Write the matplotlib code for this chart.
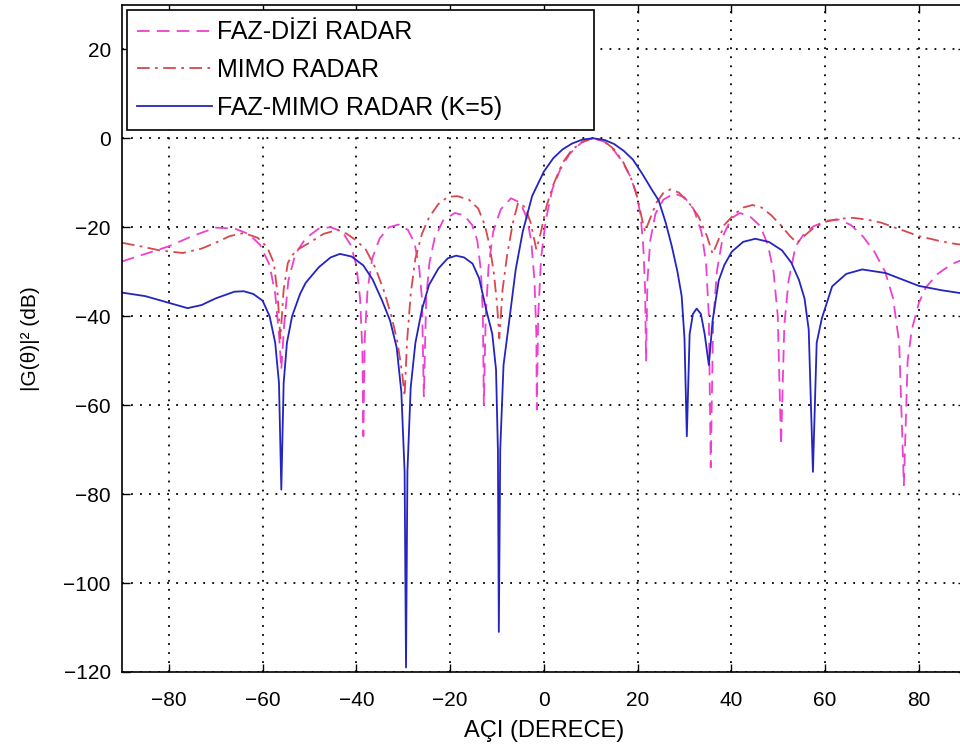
import numpy as np
import matplotlib
matplotlib.use('Agg')
import matplotlib.pyplot as plt

plt.rcParams['font.family'] = ['Liberation Sans', 'DejaVu Sans']

# FAZ-DIZI RADAR (pink dashed)
aci_dizi = [-90, -85, -80, -75, -70, -66, -63, -60.5, -58.5, -57.3, -56.5, -56.0, -55.4, -54.5, -53.0,
            -50.8, -48, -45.5, -43, -41.2, -40, -39.2, -38.7, -38.5, -38.2, -37.6, -36.6, -35, -33,
            -31, -29, -27.6, -26.6, -26, -25.6, -25.1, -24.4, -23.3, -21.5, -19, -17, -15.3, -14.2,
            -13.4, -13, -12.8, -12.4, -11.8, -10.8, -9.2, -7, -5, -3.6, -2.7, -2.0, -1.6, -1.5, -1.2,
            -0.6, 0.4, 1.8, 3.5, 5.5, 8, 10.5, 13, 15, 16.6, 18.3, 19.6, 20.6, 21.2, 21.6, 21.8, 22.1,
            22.7, 23.8, 25.5, 27.8, 30, 32, 33.6, 34.6, 35.2, 35.6, 36.1, 36.9, 38.2, 40, 41.8, 44,
            46.2, 47.8, 49, 49.9, 50.6, 51.3, 52.2, 53.7, 55.5, 57.5, 60.5, 63, 65.5, 68, 70.5, 72.8,
            74.5, 75.8, 76.8, 77.6, 78.5, 80, 81.5, 84, 87, 90]
g_dizi = [-27.7, -26.0, -24.3, -22.0, -20.1, -20.3, -21.5, -24.0, -28.5, -35, -44, -52, -42, -32, -26,
          -22.5, -20.3, -20.0, -21.0, -24.0, -28.5, -36, -48, -67, -45, -34, -27, -22.5, -20.0,
          -19.4, -20.6, -23.5, -29, -36, -58, -36, -28, -22.5, -18.5, -16.8, -17.3, -19.5, -23,
          -30, -40, -60, -40, -29, -21, -16, -13.5, -14.5, -18, -23, -32, -44, -61, -40,
          -27, -18.5, -11.5, -7, -3.5, -1, 0, -0.8, -2.8, -5, -8.3, -12, -17, -24, -34, -50, -32,
          -23, -17, -13.8, -12.4, -13.3, -16, -21, -28, -40, -74, -42, -30, -22, -18, -16.8, -17.6,
          -19.8, -24, -30, -40, -69, -42, -32, -24.3, -21.5, -19.8, -18.5, -18.3, -19.5, -22, -25.5, -30,
          -36, -46, -78, -50, -43, -37, -33.5, -30.5, -28.3, -27]

# MIMO RADAR (red dash-dot)
aci_mimo = [-90, -86, -82, -77, -73, -70, -67, -64, -61, -59, -57.6, -56.8, -56.2, -55.5, -54.6, -53,
            -50, -47, -44, -42, -40, -38, -36, -34.2, -32.5, -31.2, -30.2, -29.7, -29.2, -28.4, -27.4,
            -26, -24.5, -22.5, -20.5, -18.5, -16, -14, -12.6, -11.6, -10.7, -10, -9.5, -8.8, -7.8,
            -6.6, -5.5, -4, -2.8, -1.6, -0.6, 0.5, 2, 4, 6, 8.3, 10.5, 12.8, 15, 17, 18.8, 20, 21,
            21.6, 22.5, 24, 25.5, 27, 28.8, 31, 33, 34.8, 36, 37, 38.5, 40.5, 42.5, 44.5, 46.5, 48.5,
            50.5, 52.5, 54, 55.5, 57.5, 60, 63, 66, 69, 72, 76, 80, 84, 88, 90]
g_mimo = [-23.5, -24.3, -25.2, -25.8, -24.8, -23.5, -22, -21.3, -22.4, -24.5, -28, -35, -45, -34, -28, -25.3,
          -23.5, -21.5, -20.6, -21.5, -23, -25, -29, -34, -40, -46, -53, -58, -46, -35, -27,
          -21.5, -17.8, -14.8, -13.2, -13, -13.8, -15.8, -19.5, -24, -30, -37, -45, -34, -26,
          -19, -14.5, -15.5, -19, -25, -21, -15.5, -10.5, -5.5, -2.6, -0.7, 0, -0.6, -2.5, -5.5, -9.5, -13.5, -18.5,
          -21, -18.5, -14.5, -12.3, -11.5, -12.2, -14.6, -17.6, -22, -26, -23.5, -19.5, -17.2, -15.6, -15, -15.6, -17.3,
          -19.5, -22, -23.5, -22, -20.2, -18.8, -18.1, -17.9, -18.3, -19, -20.5, -22, -23, -23.8, -24]

# FAZ-MIMO RADAR K=5 (blue solid)
aci_fm = [-90, -85, -80, -76, -73, -70, -66, -64, -62, -60, -58.5, -57.3, -56.5, -56, -55.5, -54.8,
          -53.7, -52, -50.8, -48, -45.5, -43.5, -41, -38.5, -36.5, -34.5, -32.8, -31.4, -30.4, -29.7,
          -29.4, -29.1, -28.4, -27.4, -26, -24.5, -22.5, -20.5, -18.7, -17, -15.2, -13.8, -12.3, -11,
          -10.2, -9.8, -9.6, -9.3, -8.6, -7.5, -6, -4.5, -2.5, 0, 2, 4, 6, 8.2, 10.5, 13, 15, 17,
          19, 21, 23, 24.5, 26, 27.3, 28.5, 29.4, 30, 30.5, 31.1, 31.8, 32.6, 33.5, 34.3, 35.2, 36,
          37.3, 38.5, 40.1, 42.5, 45.1, 48, 50.8, 52.8, 54.4, 55.6, 56.5, 57.4, 58.2, 59.3, 61.5, 64.5,
          67.9, 72.9, 80, 85, 90]
g_fm = [-34.7, -35.5, -37, -38.2, -37.5, -36, -34.5, -34.4, -35, -36.5, -40, -46, -55, -79, -55, -46,
        -40, -35, -32.5, -29, -26.8, -26, -26.6, -28.6, -31.8, -36.5, -41, -47, -57, -75,
        -119, -75, -56, -46, -38.5, -33, -29.3, -27, -26.4, -26.8, -28.2, -31.5, -38.5, -44,
        -52, -70, -111, -70, -51, -42, -29.5, -21, -13, -7.5, -4.5, -2.5, -1.2, -0.3, 0, -0.4, -1.3, -2.8,
        -4.8, -8, -11.5, -14, -19, -24.3, -30, -35.5, -45, -67, -44, -39.5, -38.3, -39.5, -44, -51, -41,
        -32, -28.5, -25.5, -23.3, -22.6, -23.3, -25.2, -28, -31.8, -36, -43, -75, -46, -40.5, -33.3, -30.5,
        -29.5, -30.3, -33.2, -34.2, -35]

fig = plt.figure(figsize=(9.6, 7.53), dpi=100)
ax = fig.add_axes([0.127, 0.1076, 0.879, 0.886])

ax.plot(aci_dizi, g_dizi, color='#ee40d0', lw=1.3, dashes=(7, 4), label='FAZ-DİZİ RADAR')
ax.plot(aci_mimo, g_mimo, color='#d8474d', lw=1.3, dashes=(7, 3, 1.5, 3), label='MIMO RADAR')
ax.plot(aci_fm, g_fm, color='#2424c0', lw=1.3, label='FAZ-MIMO RADAR (K=5)')

ax.set_xlim(-90, 90)
ax.set_ylim(-120, 30)
ax.set_xticks(np.arange(-80, 81, 20))
ax.set_yticks(np.arange(-120, 21, 20))
ax.grid(True, color='k', linestyle=(0, (1, 4)), linewidth=1.3)
ax.tick_params(direction='in', length=6, width=1, top=True, right=True, labelsize=15)
ax.tick_params(axis='x', pad=14)
ax.tick_params(axis='y', pad=8)
for s in ax.spines.values():
    s.set_linewidth(1.2)

ax.set_xlabel('AÇI (DERECE)', fontsize=17, labelpad=7)
ax.set_ylabel('|G(θ)|² (dB)', fontsize=15, labelpad=17)

leg = ax.legend(loc='upper left', bbox_to_anchor=(0, 0, 0.565, 1), mode='expand',
                borderaxespad=0.2, fontsize=18, handlelength=3.0, handletextpad=0.2,
                labelspacing=0.55, borderpad=0.42, fancybox=False, framealpha=1, edgecolor='k')
leg.get_frame().set_linewidth(1.2)

fig.savefig('out.png', dpi=100)
